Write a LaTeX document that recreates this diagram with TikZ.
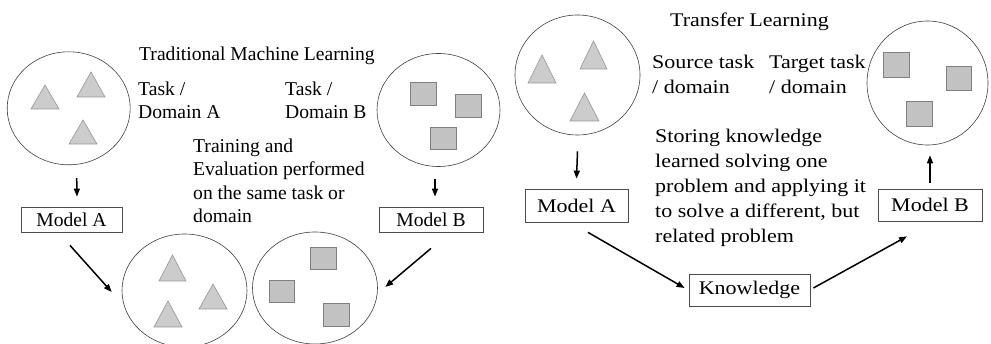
\documentclass[tikz,border=0pt]{standalone}
\usepackage{fontspec}
\setmainfont{Liberation Serif}
\newfontfamily\widefont[FakeStretch=1.14]{Liberation Serif}
\usetikzlibrary{shapes.geometric,arrows.meta}

% text settings for the two halves
\newcommand\tmlfont{\fontsize{19.6}{23.5}\selectfont}
\newcommand\trffont{\widefont\fontsize{19.3}{25}\selectfont}

\tikzset{
  ring/.style={ellipse, draw=black!75, line width=0.6pt, inner sep=0pt},
  tri/.style={fill=black!20, draw=black!42, line width=0.6pt},
  sq/.style={fill=black!24, draw=black!50, line width=0.7pt},
  modelL/.style={draw=black!70, line width=0.8pt, fill=white, inner sep=0pt,
    minimum width=101pt, minimum height=25pt, font=\tmlfont},
  modelR/.style={draw=black!70, line width=0.8pt, fill=white, inner sep=0pt,
    minimum width=103pt, minimum height=33pt, font=\trffont},
  txtL/.style={inner sep=0pt, align=left, font=\tmlfont},
  txtR/.style={inner sep=0pt, align=left, font=\trffont},
  arr/.style={-{Triangle[length=8pt,width=6pt]}, line width=1.5pt},
}

% triangle: left x, right x, apex y, base y
\newcommand\tribox[4]{\draw[tri] (#1,#4) -- (#2,#4) -- ({(#1+#2)/2},#3) -- cycle;}
% square: left x, right x, top y, bottom y
\newcommand\sqbox[4]{\draw[sq] (#1,#3) rectangle (#2,#4);}

\begin{document}
\begin{tikzpicture}[x=1pt, y=-1pt]
\useasboundingbox (0,0) rectangle (991,344);
\fill[white] (0,0) rectangle (991,344);

% ---------- Traditional machine learning ----------
\node[ring, minimum width=123pt, minimum height=113pt] (eA) at (68.7,108.3) {};
\node[ring, minimum width=123pt, minimum height=113pt] (eB) at (438.5,110) {};
\node[ring, minimum width=125pt, minimum height=113pt] (bL) at (184.5,290.5) {};
\node[ring, minimum width=125pt, minimum height=112pt] (bR) at (315,288) {};

\tribox{31}{59}{85}{109}
\tribox{77}{105}{72}{97}
\tribox{69}{97}{120}{144}

\sqbox{410}{436}{82}{105}
\sqbox{455}{481}{94}{117}
\sqbox{430}{456}{127}{149}

\tribox{159}{186}{255}{281}
\tribox{199}{227}{284}{309}
\tribox{154}{182}{301}{327}

\sqbox{310}{336}{247}{269}
\sqbox{269}{294}{280}{302}
\sqbox{323}{349}{303}{326}

\node[txtL, anchor=base west] (tml) at (139,61) {Traditional Machine Learning};
\node[txtL, anchor=north west] (tdA) at (138,81.6) {Task /\\Domain A};
\node[txtL, anchor=north west] (tdB) at (285,81.6) {Task /\\Domain B};
\node[txtL, anchor=north west] (same) at (193,138.6)
  {Training and\\Evaluation performed\\on the same task or\\domain};

\node[modelL] (mA) at (71.5,219.5) {Model A};
\node[modelL, minimum width=104pt] (mB) at (431,219.5) {Model B};

\draw[arr] ([xshift=8pt, yshift=-13pt]eA.south) -- ([xshift=5.5pt, yshift=10pt]mA.north);
\draw[arr] ([xshift=-3.5pt, yshift=-12pt]eB.south) -- ([xshift=4pt, yshift=10pt]mB.north);
\draw[arr] ([xshift=-1.5pt, yshift=-13pt]mA.south) -- ([xshift=-10pt, yshift=-1.5pt]bL.west);
\draw[arr] ([yshift=-16pt]mB.south) -- ([xshift=7.5pt, yshift=1pt]bR.east);

% ---------- Transfer learning ----------
\node[ring, minimum width=125pt, minimum height=120pt] (eA2) at (577.5,75) {};
\node[ring, minimum width=121pt, minimum height=124pt] (eB2) at (927.5,83) {};

\tribox{528}{556}{55}{83}
\tribox{580}{607}{41}{69}
\tribox{570}{599}{93}{121}

\sqbox{883}{909}{52}{77}
\sqbox{946}{971}{66}{90}
\sqbox{906}{932}{101}{126}

\node[txtR, anchor=base west] (trl) at (670,27) {Transfer Learning};
\node[txtR, anchor=north west] (src) at (652,54.8) {Source task\\/ domain};
\node[txtR, anchor=north west] (tgt) at (769,54.8) {Target task\\/ domain};
\node[txtR, anchor=north west] (store) at (655,128.8)
  {Storing knowledge\\learned solving one\\problem and applying it\\to solve a different, but\\related problem};

\node[modelR] (mA2) at (576.5,205.5) {Model A};
\node[modelR, minimum width=104pt, minimum height=32pt] (mB2) at (930,205) {Model B};
\node[modelR, minimum width=121pt, minimum height=32pt] (kn) at (749.5,290) {Knowledge};

\draw[arr] ([yshift=-16pt]eA2.south) -- ([yshift=10pt]mA2.north);
\draw[arr] ([xshift=11.5pt, yshift=-10pt]mA2.south) -- ([xshift=-4pt, yshift=2pt]kn.west);
\draw[arr] ([xshift=3pt, yshift=2pt]kn.east) -- ([xshift=-23pt, yshift=-15pt]mB2.south);
\draw[arr] ([yshift=6pt]mB2.north) -- ([xshift=2.5pt, yshift=-10pt]eB2.south);
\end{tikzpicture}
\end{document}
